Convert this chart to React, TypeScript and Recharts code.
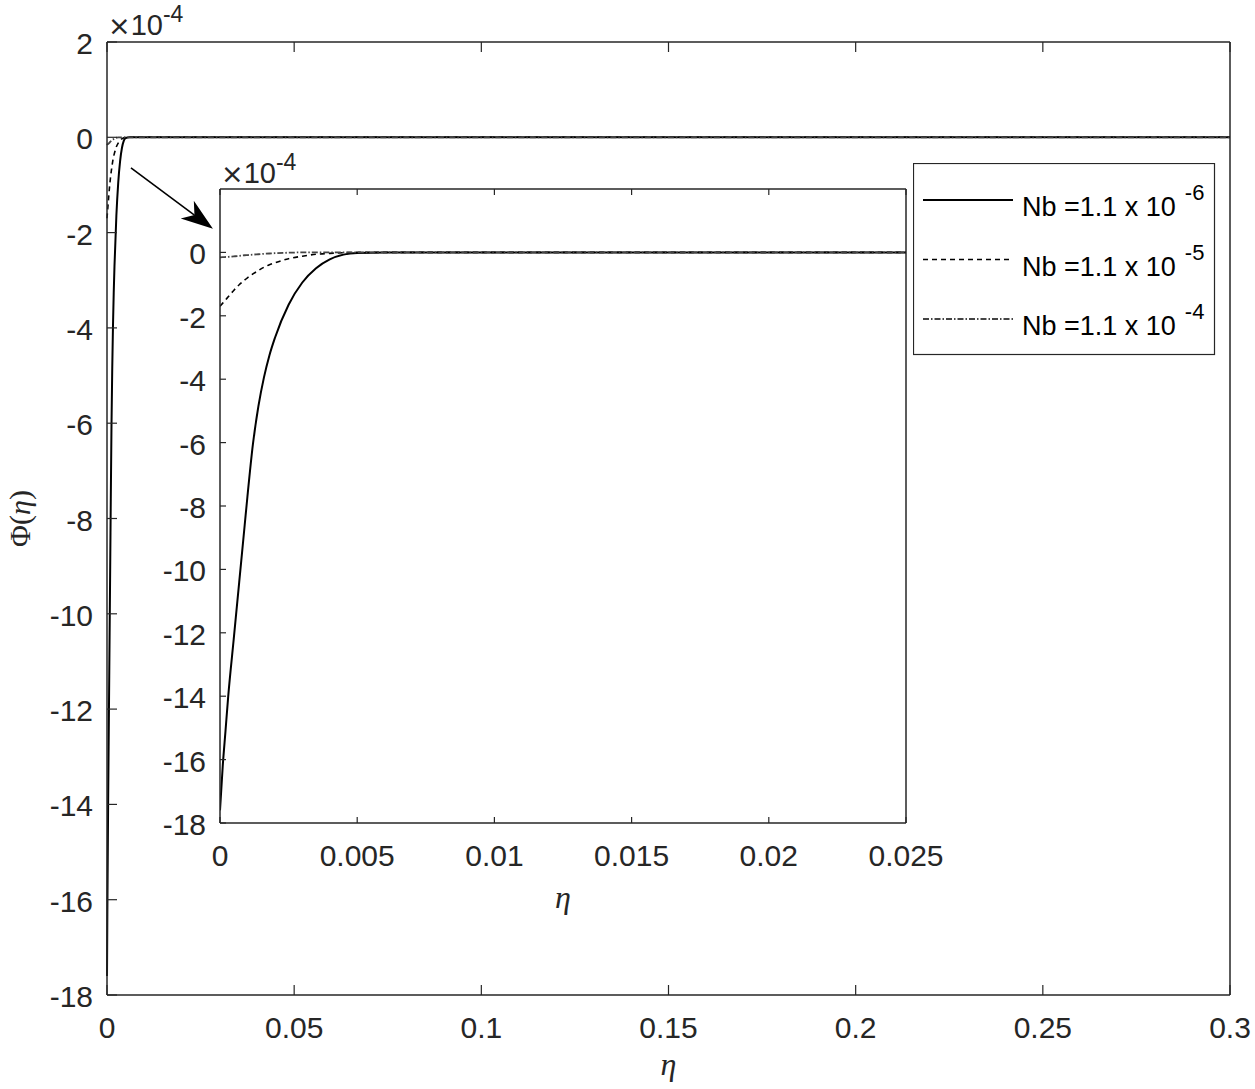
import { LineChart, Line, XAxis, YAxis, ReferenceLine, Legend } from "recharts";

// similarity variable eta and concentration profile Phi (x 1e-4)
const etaValues = [
  0, 0.0001, 0.0002, 0.0003, 0.0005, 0.0007, 0.0009, 0.001, 0.0012, 0.0014,
  0.0016, 0.0018, 0.002, 0.0025, 0.003, 0.0035, 0.004, 0.0045, 0.005, 0.006,
  0.01, 0.025, 0.1, 0.3,
];
const phiNb6 = [
  -17.6, -16.2, -15.1, -14.0, -12.2, -10.4, -8.6, -7.7, -6.05, -4.85, -3.95,
  -3.25, -2.7, -1.65, -0.95, -0.5, -0.22, -0.07, -0.015, 0, 0, 0, 0, 0,
];
const phiNb5 = [
  -1.7, -1.6, -1.5, -1.4, -1.2, -1.02, -0.87, -0.8, -0.68, -0.57, -0.47, -0.39,
  -0.33, -0.2, -0.12, -0.06, -0.03, -0.01, 0, 0, 0, 0, 0, 0,
];
const phiNb4 = [
  -0.16, -0.15, -0.145, -0.14, -0.125, -0.11, -0.09, -0.085, -0.07, -0.058,
  -0.045, -0.035, -0.025, -0.01, 0, 0, 0, 0, 0, 0, 0, 0, 0, 0,
];

const seriesKeys = ["nb6", "nb5", "nb4"];
const seriesLabel = "Nb =1.1 x 10";
const seriesExponents = ["-6", "-5", "-4"];

const mainXTicks = [0, 0.05, 0.1, 0.15, 0.2, 0.25, 0.3];
const mainYTicks = [-18, -16, -14, -12, -10, -8, -6, -4, -2, 0, 2];
const insetXTicks = [0, 0.005, 0.01, 0.015, 0.02, 0.025];
const insetYTicks = [-18, -16, -14, -12, -10, -8, -6, -4, -2, 0];

// arrow from main curves to inset, in main-axis data units
const arrowFrom = { x: 0.0064, y: -0.64 };
const arrowTo = { x: 0.0283, y: -1.92 };

const data = etaValues.map((eta, i) => ({
  eta,
  nb6: phiNb6[i],
  nb5: phiNb5[i],
  nb4: phiNb4[i],
}));

const AXIS = "#262626";
const SANS = "'Liberation Sans', Arial, sans-serif";
const SERIF = "'Liberation Serif', 'Times New Roman', serif";

const lineStyles: Record<string, { stroke: string; width: number; dash?: string }> = {
  nb6: { stroke: "#000", width: 2 },
  nb5: { stroke: "#000", width: 1.6, dash: "5 4" },
  nb4: { stroke: "#444", width: 1.8, dash: "6 2 1.5 2" },
};

const BottomTick = (props: any) => {
  const { x, y, payload, len } = props;
  return (
    <g>
      <line x1={x} y1={y} x2={x} y2={y - len} stroke={AXIS} strokeWidth={1.2} />
      <text x={x} y={y + 43} textAnchor="middle" fontSize={30} fontFamily={SANS} fill={AXIS}>
        {String(payload.value)}
      </text>
    </g>
  );
};

const LeftTick = (props: any) => {
  const { x, y, payload, len } = props;
  return (
    <g>
      <line x1={x} y1={y} x2={x + len} y2={y} stroke={AXIS} strokeWidth={1.2} />
      <text x={x - 14} y={y + 12} textAnchor="end" fontSize={30} fontFamily={SANS} fill={AXIS}>
        {String(payload.value)}
      </text>
    </g>
  );
};

const TopTick = (props: any) => {
  const { x, y, len } = props;
  return <line x1={x} y1={y} x2={x} y2={y + len} stroke={AXIS} strokeWidth={1.2} />;
};

const RightTick = (props: any) => {
  const { x, y, len } = props;
  return <line x1={x} y1={y} x2={x - len} y2={y} stroke={AXIS} strokeWidth={1.2} />;
};

const Arrow = (props: any) => {
  const { x1, y1, x2, y2 } = props;
  const dx = x2 - x1;
  const dy = y2 - y1;
  const l = Math.sqrt(dx * dx + dy * dy) || 1;
  const ux = dx / l;
  const uy = dy / l;
  const nx = -uy;
  const ny = ux;
  const L = 32;
  const W = 11;
  const bx = x2 - ux * L;
  const by = y2 - uy * L;
  const mx = x2 - ux * L * 0.72;
  const my = y2 - uy * L * 0.72;
  const head = `${x2},${y2} ${bx + nx * W},${by + ny * W} ${mx},${my} ${bx - nx * W},${by - ny * W}`;
  return (
    <g>
      <line x1={x1} y1={y1} x2={mx} y2={my} stroke="#000" strokeWidth={1.6} />
      <polygon points={head} fill="#000" />
    </g>
  );
};

const ExponentLabel = ({ x, y }: { x: number; y: number }) => (
  <text x={x} y={y} fontSize={29} fontFamily={SANS} fill={AXIS}>
    <tspan fontFamily="'DejaVu Sans', sans-serif" fontSize={27}>
      ×
    </tspan>
    10
    <tspan dy={-13} fontSize={23}>
      -4
    </tspan>
  </text>
);

const LegendBox = () => (
  <svg width={303} height={193} style={{ display: "block" }}>
    <rect x={0.5} y={0.5} width={301} height={191} fill="#fff" stroke={AXIS} strokeWidth={1.2} />
    {seriesKeys.map((k, i) => {
      const cy = 37 + i * 59.5;
      const s = lineStyles[k];
      return (
        <g key={k}>
          <line
            x1={10}
            y1={cy}
            x2={100}
            y2={cy}
            stroke={s.stroke}
            strokeWidth={s.width}
            strokeDasharray={s.dash}
          />
          <text x={109} y={cy + 16} fontSize={27} fontFamily={SANS} fill="#000">
            {seriesLabel}
            <tspan dx={9} dy={-16} fontSize={22}>
              {seriesExponents[i]}
            </tspan>
          </text>
        </g>
      );
    })}
  </svg>
);

function renderLines() {
  return seriesKeys.map((k) => (
    <Line
      key={k}
      dataKey={k}
      type="monotone"
      stroke={lineStyles[k].stroke}
      strokeWidth={lineStyles[k].width}
      strokeDasharray={lineStyles[k].dash}
      dot={false}
      activeDot={false}
      isAnimationActive={false}
    />
  ));
}

export default function App() {
  return (
    <div style={{ position: "relative", width: 1255, height: 1089, background: "#fff" }}>
      <style>{`body{margin:0;background:#fff}`}</style>
      <div style={{ position: "absolute", left: 0, top: 0 }}>
        <LineChart
          width={1255}
          height={1089}
          data={data}
          margin={{ top: 41, right: 24, bottom: 34, left: 47 }}
        >
          <XAxis
            dataKey="eta"
            type="number"
            domain={[0, 0.3]}
            ticks={mainXTicks}
            interval={0}
            height={60}
            tickSize={0}
            tickMargin={0}
            tickLine={false}
            axisLine={{ stroke: AXIS, strokeWidth: 1.5 }}
            tick={(p: any) => <BottomTick {...p} len={10} />}
            label={{
              content: (lp: any) => {
                const vb = lp.viewBox;
                return (
                  <text
                    x={vb.x + vb.width / 2}
                    y={1075}
                    textAnchor="middle"
                    fontSize={32}
                    fontFamily={SERIF}
                    fontStyle="italic"
                    fill={AXIS}
                  >
                    η
                  </text>
                );
              },
            }}
          />
          <XAxis
            xAxisId="top"
            dataKey="eta"
            type="number"
            orientation="top"
            domain={[0, 0.3]}
            ticks={mainXTicks}
            interval={0}
            height={1}
            tickSize={0}
            tickMargin={0}
            tickLine={false}
            axisLine={{ stroke: AXIS, strokeWidth: 1.5 }}
            tick={(p: any) => <TopTick {...p} len={10} />}
          />
          <YAxis
            type="number"
            domain={[-18, 2]}
            ticks={mainYTicks}
            interval={0}
            width={60}
            tickSize={0}
            tickMargin={0}
            tickLine={false}
            axisLine={{ stroke: AXIS, strokeWidth: 1.5 }}
            tick={(p: any) => <LeftTick {...p} len={10} />}
            label={{
              content: (lp: any) => {
                const vb = lp.viewBox;
                const cy = vb.y + vb.height / 2;
                return (
                  <g>
                    <text
                      transform={`translate(30, ${cy}) rotate(-90)`}
                      textAnchor="middle"
                      fontSize={30}
                      fontFamily={SERIF}
                      fill={AXIS}
                    >
                      Φ(<tspan fontStyle="italic">η</tspan>)
                    </text>
                    <ExponentLabel x={vb.x + vb.width + 1} y={vb.y - 7} />
                  </g>
                );
              },
            }}
          />
          <YAxis
            yAxisId="right"
            type="number"
            orientation="right"
            domain={[-18, 2]}
            ticks={mainYTicks}
            interval={0}
            width={1}
            tickSize={0}
            tickMargin={0}
            tickLine={false}
            axisLine={{ stroke: AXIS, strokeWidth: 1.5 }}
            tick={(p: any) => <RightTick {...p} len={10} />}
          />
          {renderLines()}
          <ReferenceLine segment={[arrowFrom, arrowTo]} shape={(p: any) => <Arrow {...p} />} />
          <Legend
            layout="vertical"
            align="center"
            verticalAlign="middle"
            wrapperStyle={{ left: 913, top: 163, width: 303, height: 193, margin: 0 }}
            content={() => <LegendBox />}
          />
        </LineChart>
      </div>
      <div style={{ position: "absolute", left: 0, top: 0 }}>
        <LineChart
          width={1255}
          height={1089}
          data={data}
          margin={{ top: 188, right: 348, bottom: 206, left: 160 }}
        >
          <XAxis
            dataKey="eta"
            type="number"
            domain={[0, 0.025]}
            allowDataOverflow
            ticks={insetXTicks}
            interval={0}
            height={60}
            tickSize={0}
            tickMargin={0}
            tickLine={false}
            axisLine={{ stroke: AXIS, strokeWidth: 1.5 }}
            tick={(p: any) => <BottomTick {...p} len={6} />}
            label={{
              content: (lp: any) => {
                const vb = lp.viewBox;
                return (
                  <text
                    x={vb.x + vb.width / 2}
                    y={908}
                    textAnchor="middle"
                    fontSize={32}
                    fontFamily={SERIF}
                    fontStyle="italic"
                    fill={AXIS}
                  >
                    η
                  </text>
                );
              },
            }}
          />
          <XAxis
            xAxisId="top"
            dataKey="eta"
            type="number"
            orientation="top"
            domain={[0, 0.025]}
            allowDataOverflow
            ticks={insetXTicks}
            interval={0}
            height={1}
            tickSize={0}
            tickMargin={0}
            tickLine={false}
            axisLine={{ stroke: AXIS, strokeWidth: 1.5 }}
            tick={(p: any) => <TopTick {...p} len={6} />}
          />
          <YAxis
            type="number"
            domain={[-18, 2]}
            ticks={insetYTicks}
            interval={0}
            width={60}
            tickSize={0}
            tickMargin={0}
            tickLine={false}
            axisLine={{ stroke: AXIS, strokeWidth: 1.5 }}
            tick={(p: any) => <LeftTick {...p} len={6} />}
            label={{
              content: (lp: any) => {
                const vb = lp.viewBox;
                return <ExponentLabel x={vb.x + vb.width + 1} y={vb.y - 6} />;
              },
            }}
          />
          <YAxis
            yAxisId="right"
            type="number"
            orientation="right"
            domain={[-18, 2]}
            ticks={insetYTicks}
            interval={0}
            width={1}
            tickSize={0}
            tickMargin={0}
            tickLine={false}
            axisLine={{ stroke: AXIS, strokeWidth: 1.5 }}
            tick={(p: any) => <RightTick {...p} len={6} />}
          />
          {renderLines()}
        </LineChart>
      </div>
    </div>
  );
}
